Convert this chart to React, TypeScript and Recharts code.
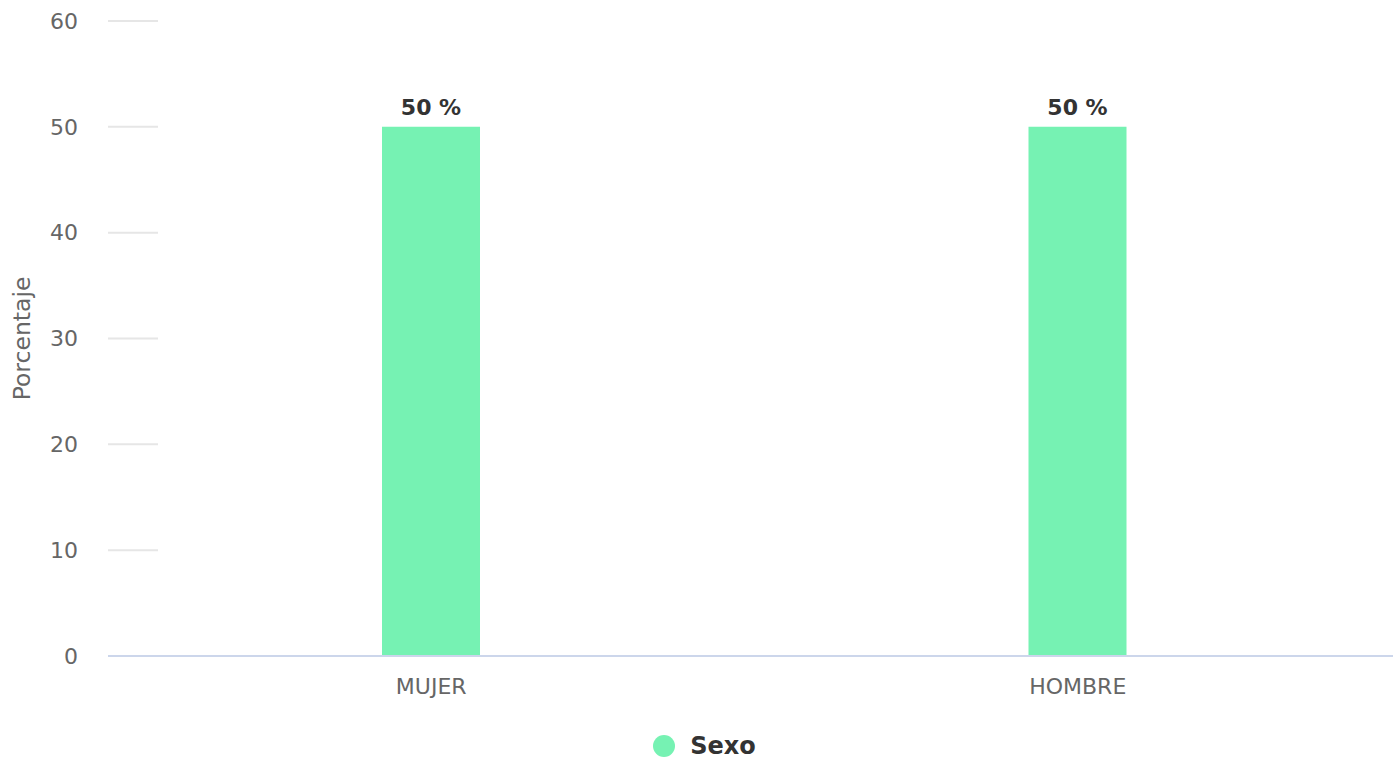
import { BarChart, Bar, XAxis, YAxis, CartesianGrid, Legend, LabelList } from "recharts";

const categories = ["MUJER", "HOMBRE"];
const sexoValues = [50, 50];
const yTicks = [0, 10, 20, 30, 40, 50, 60];

const data = categories.map((name, i) => ({ name, Sexo: sexoValues[i] }));

const FONT = "'DejaVu Sans', sans-serif";
const BAR_COLOR = "#76f2b3";

// short grid stubs next to the y axis, like the original
const GridStub = (props: any) => {
  const { x1, y1, y2, index } = props;
  if (index === 0) return <g />;
  return <line x1={x1} x2={x1 + 50} y1={y1} y2={y2} stroke="#e6e6e6" strokeWidth={2} />;
};

const YTitle = (props: any) => {
  const { viewBox } = props;
  const cy = viewBox.y + viewBox.height / 2;
  return (
    <text
      x={14}
      y={cy}
      transform={`rotate(-90, 14, ${cy})`}
      textAnchor="middle"
      dominantBaseline="central"
      fill="#666666"
      fontSize={23.5}
      fontFamily={FONT}
    >
      Porcentaje
    </text>
  );
};

const LegendContent = () => (
  <div
    style={{
      height: 43,
      display: "flex",
      justifyContent: "center",
      alignItems: "flex-end",
      fontFamily: FONT,
    }}
  >
    <div style={{ display: "flex", alignItems: "center", height: 26 }}>
      <span
        style={{
          width: 22,
          height: 22,
          borderRadius: "50%",
          background: BAR_COLOR,
          display: "inline-block",
          marginRight: 15,
        }}
      />
      <span style={{ fontSize: 24, fontWeight: "bold", color: "#333333", lineHeight: "26px" }}>
        Sexo
      </span>
    </div>
  </div>
);

export default function App() {
  return (
    <div
      style={{
        position: "absolute",
        left: 8,
        top: 8,
        width: 1385,
        height: 751,
        overflow: "hidden",
        background: "#fff",
      }}
    >
      <BarChart
        width={1393}
        height={751}
        data={data}
        margin={{ top: 13, right: 0, left: 0, bottom: 0 }}
        barCategoryGap={0}
      >
        <CartesianGrid vertical={false} horizontal={GridStub} />
        <XAxis
          dataKey="name"
          height={60}
          axisLine={{ stroke: "#ccd6eb", strokeWidth: 2 }}
          tickLine={false}
          tickMargin={16}
          tick={{ fill: "#666666", fontSize: 22, fontFamily: FONT }}
        />
        <YAxis
          width={100}
          domain={[0, 60]}
          ticks={yTicks}
          axisLine={false}
          tickLine={false}
          tickMargin={24}
          tick={{ fill: "#666666", fontSize: 22, fontFamily: FONT }}
          label={<YTitle />}
        />
        <Legend verticalAlign="bottom" height={43} content={<LegendContent />} />
        <Bar dataKey="Sexo" fill={BAR_COLOR} barSize={98} isAnimationActive={false}>
          <LabelList
            dataKey="Sexo"
            position="top"
            offset={12}
            formatter={(v: any) => `${v} %`}
            fill="#333333"
            fontSize={22}
            fontWeight="bold"
            fontFamily={FONT}
          />
        </Bar>
      </BarChart>
    </div>
  );
}
